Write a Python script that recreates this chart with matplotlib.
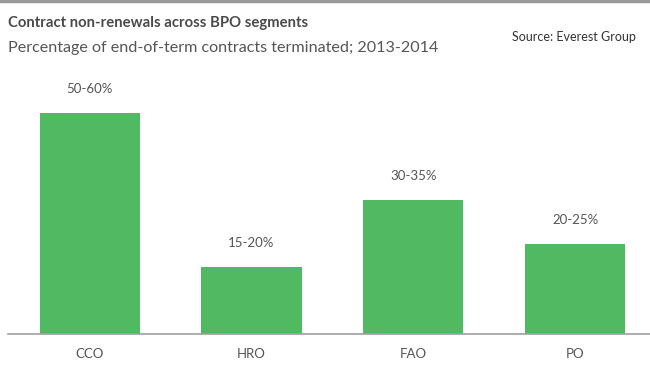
import matplotlib.pyplot as plt
from matplotlib.lines import Line2D

segments = ["CCO", "HRO", "FAO", "PO"]
values = [55.0, 16.7, 33.3, 22.4]
value_labels = ["50-60%", "15-20%", "30-35%", "20-25%"]

plt.rcParams["font.family"] = ["Lato", "DejaVu Sans"]

fig = plt.figure(figsize=(6.5, 3.74), dpi=100)
ax = fig.add_axes([0.012, 0.107, 0.988, 0.644])

x = list(range(len(segments)))
bars = ax.bar(x, values, width=0.62, color="#52B963", zorder=2)
ax.set_xlim(-0.506, 3.463)
ax.set_ylim(0, 60)

for bar, label in zip(bars, value_labels):
    ax.annotate(label, (bar.get_x() + bar.get_width() / 2, bar.get_height()),
                xytext=(0, 13), textcoords="offset points",
                ha="center", va="bottom", fontsize=9.5, color="#555555")

ax.set_xticks(x)
ax.set_xticklabels(segments, fontsize=9.5, color="#555555")
ax.tick_params(axis="x", length=0, pad=10)
ax.set_yticks([])
for side in ["top", "right", "left"]:
    ax.spines[side].set_visible(False)
ax.spines["bottom"].set_color("#a0a0a0")
ax.spines["bottom"].set_linewidth(1.2)
ax.spines["bottom"].set_zorder(3)

fig.add_artist(Line2D([0, 1], [0.997, 0.997], transform=fig.transFigure,
                      color="#999999", linewidth=2.5))
fig.text(0.012, 0.938, "Contract non-renewals across BPO segments",
         fontsize=10.7, fontweight="bold", color="#4a4a4a", va="center")
fig.text(0.012, 0.872, "Percentage of end-of-term contracts terminated; 2013-2014",
         fontsize=11.6, color="#555555", va="center")
fig.text(0.978, 0.902, "Source: Everest Group", fontsize=9,
         color="#333333", ha="right", va="center")

fig.savefig("out.png", dpi=100)
